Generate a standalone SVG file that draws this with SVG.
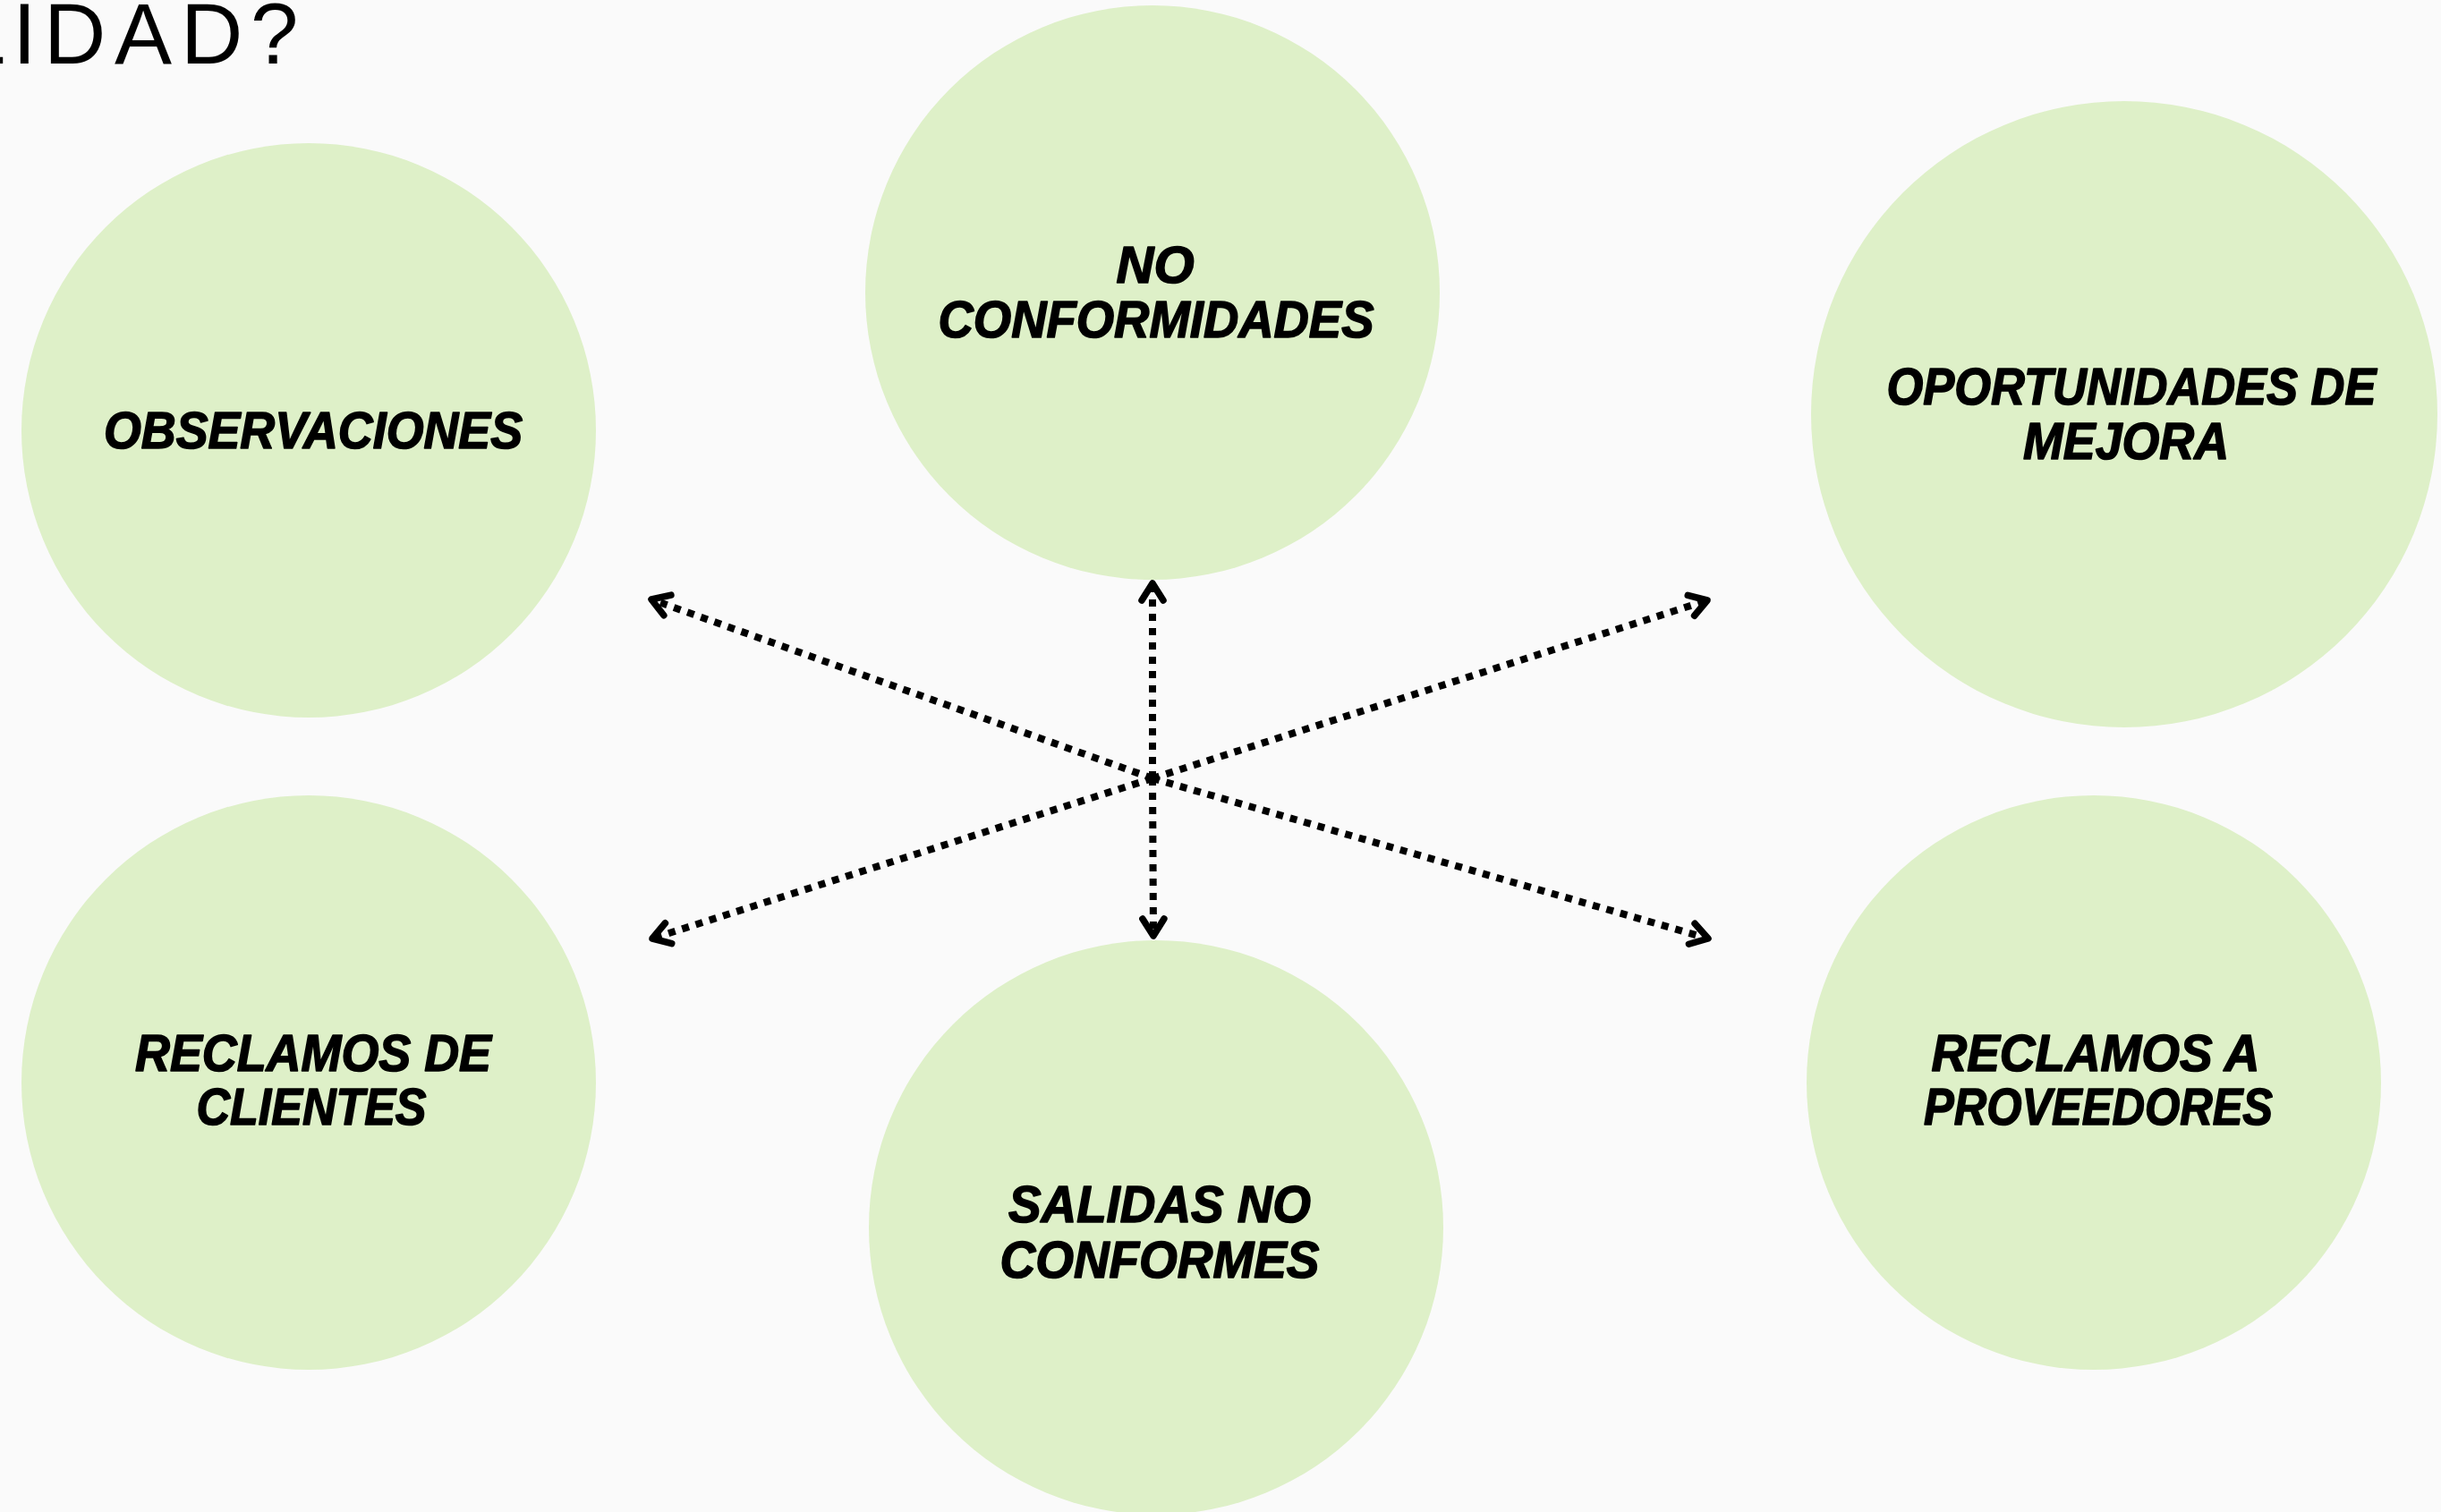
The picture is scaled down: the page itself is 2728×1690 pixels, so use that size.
<svg xmlns="http://www.w3.org/2000/svg" width="2728" height="1690" viewBox="0 0 2728 1690">
<style>
.bg{fill:#fafafa}
.node circle{fill:#def0c8}
.lbl{font-family:"Liberation Sans",Arial,sans-serif;font-weight:bold;font-style:italic;font-size:57px;fill:#000;stroke:#000;stroke-width:1.6;stroke-linejoin:round;text-anchor:middle}
.title{font-family:"Liberation Sans",Arial,sans-serif;font-weight:normal;font-size:96px;fill:#000}
.conn line{stroke:#000;stroke-width:8;stroke-dasharray:8 8;fill:none;marker-end:url(#chev)}
</style>
<defs>
<marker id="chev" markerUnits="userSpaceOnUse" viewBox="-30 -30 60 60" markerWidth="60" markerHeight="60" refX="0" refY="0" orient="auto">
<path d="M-19,-12 L0,0 L-19,12" fill="none" stroke="#000" stroke-width="7.5" stroke-linecap="round" stroke-linejoin="round"/>
</marker>
</defs>
<rect class="bg" x="0" y="0" width="2728" height="1690"/>
<text class="title" x="-47 14 49 128 202 280" y="71">LIDAD?</text>

<g id="n-observaciones" class="node">
<circle cx="345" cy="481" r="321"/>
<text class="lbl" x="350" y="501" textLength="468" lengthAdjust="spacingAndGlyphs">OBSERVACIONES</text>
</g>
<g id="n-no-conformidades" class="node">
<circle cx="1288" cy="327" r="321"/>
<text class="lbl" x="1291" y="316" textLength="87" lengthAdjust="spacingAndGlyphs">NO</text>
<text class="lbl" x="1292" y="377" textLength="487" lengthAdjust="spacingAndGlyphs">CONFORMIDADES</text>
</g>
<g id="n-oportunidades" class="node">
<circle cx="2374" cy="463" r="350"/>
<text class="lbl" x="2382" y="452" textLength="547" lengthAdjust="spacingAndGlyphs">OPORTUNIDADES DE</text>
<text class="lbl" x="2376" y="513" textLength="230" lengthAdjust="spacingAndGlyphs">MEJORA</text>
</g>
<g id="n-reclamos-clientes" class="node">
<circle cx="345" cy="1210" r="321"/>
<text class="lbl" x="350" y="1197" textLength="398" lengthAdjust="spacingAndGlyphs">RECLAMOS DE</text>
<text class="lbl" x="348" y="1257" textLength="257" lengthAdjust="spacingAndGlyphs">CLIENTES</text>
</g>
<g id="n-salidas" class="node">
<circle cx="1292" cy="1372" r="321"/>
<text class="lbl" x="1296" y="1366" textLength="338" lengthAdjust="spacingAndGlyphs">SALIDAS NO</text>
<text class="lbl" x="1296" y="1428" textLength="357" lengthAdjust="spacingAndGlyphs">CONFORMES</text>
</g>
<g id="n-reclamos-proveedores" class="node">
<circle cx="2340" cy="1210" r="321"/>
<text class="lbl" x="2342" y="1197" textLength="367" lengthAdjust="spacingAndGlyphs">RECLAMOS A</text>
<text class="lbl" x="2345" y="1257" textLength="390" lengthAdjust="spacingAndGlyphs">PROVEEDORES</text>
</g>

<g id="connectors" class="conn">
<line x1="1288" y1="870" x2="728" y2="670"/>
<line x1="1288" y1="870" x2="1288" y2="652"/>
<line x1="1288" y1="870" x2="1908" y2="671"/>
<line x1="1288" y1="870" x2="729" y2="1049"/>
<line x1="1288" y1="870" x2="1289" y2="1046"/>
<line x1="1288" y1="870" x2="1909" y2="1049"/>
</g>
</svg>
